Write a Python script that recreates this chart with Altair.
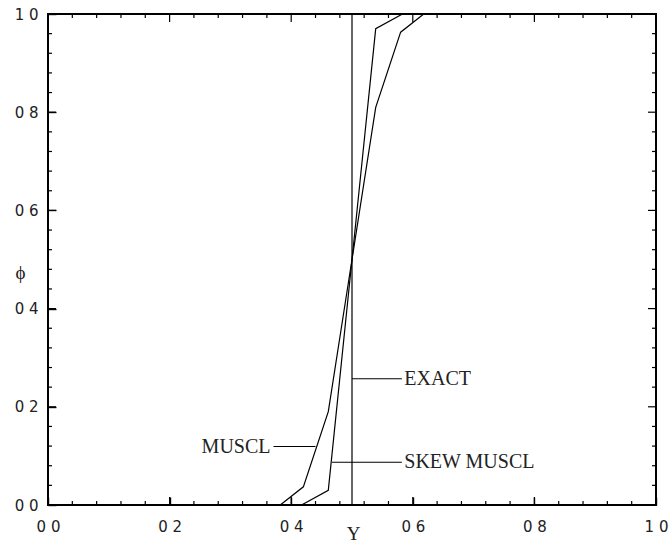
import altair as alt
import pandas as pd

# ---- data ----
muscl_x = [0.382, 0.420, 0.461, 0.500, 0.539, 0.580, 0.618]
muscl_y = [0.000, 0.037, 0.190, 0.500, 0.810, 0.963, 1.000]
skew_x = [0.417, 0.461, 0.500, 0.539, 0.583]
skew_y = [0.000, 0.030, 0.500, 0.970, 1.000]
exact_x = [0.5, 0.5]
exact_y = [0.0, 1.0]

# annotations (data units)
label_text = ["EXACT", "SKEW MUSCL", "MUSCL"]
leader_x1 = [0.500, 0.467, 0.371]
leader_x2 = [0.582, 0.582, 0.440]
leader_y = [0.257, 0.087, 0.119]
label_x = [0.586, 0.586, 0.366]
label_side = ["left", "left", "right"]

major_ticks = [0.0, 0.2, 0.4, 0.6, 0.8, 1.0]
minor_ticks = [0.04, 0.08, 0.12, 0.16, 0.24, 0.28, 0.32, 0.36, 0.44, 0.48,
               0.52, 0.56, 0.64, 0.68, 0.72, 0.76, 0.84, 0.88, 0.92, 0.96]

SERIF = "Liberation Serif"
SANS = "DejaVu Sans"
W, H = 608, 491
MAJOR_LEN, MINOR_LEN = 8, 4   # tick lengths in pixels (style)

rows = []
for name, xv, yv in (("MUSCL", muscl_x, muscl_y), ("SKEW MUSCL", skew_x, skew_y),
                     ("EXACT", exact_x, exact_y)):
    for i, (x, y) in enumerate(zip(xv, yv)):
        rows.append({"series": name, "i": i, "x": x, "y": y})

# inward tick segments on all four edges, built from the tick value lists
k = 0
for vals, ln in ((major_ticks, MAJOR_LEN), (minor_ticks, MINOR_LEN)):
    ly, lx = ln / H, ln / W
    for v in vals:
        for (xa, ya), (xb, yb) in (((v, 0.0), (v, ly)), ((v, 1.0), (v, 1.0 - ly)),
                                   ((0.0, v), (lx, v)), ((1.0, v), (1.0 - lx, v))):
            rows.append({"series": f"tick{k}", "i": 0, "x": xa, "y": ya})
            rows.append({"series": f"tick{k}", "i": 1, "x": xb, "y": yb})
            k += 1
lines_df = pd.DataFrame(rows)

ann_df = pd.DataFrame({"text": label_text, "x1": leader_x1, "x2": leader_x2,
                       "y": leader_y, "lx": label_x, "side": label_side})

xs = alt.Scale(domain=[0, 1], nice=False, zero=False)
ys = alt.Scale(domain=[0, 1], nice=False, zero=False)

lab_expr = "replace(format(datum.value, '.1f'), '.', ' ')"

# major ticks drawn inward by the axes themselves (negative size through an expression);
# the label padding compensates for the negative tick size
X_AXIS = alt.Axis(
    orient="bottom", values=major_ticks, domain=False, grid=False,
    ticks=True, tickSize=alt.ExprRef(f"-{MAJOR_LEN}"), tickColor="black", tickWidth=1.4,
    labelExpr=lab_expr, labelFont=SANS, labelFontSize=15, labelColor="#222",
    labelPadding=14 + MAJOR_LEN, labelFlush=False, labelBaseline="top",
    title="Y", titleFont=SERIF, titleFontSize=19, titleFontWeight="normal",
    titleColor="#222", titleX=305, titleY=28, titleBaseline="middle",
    titleAlign="center")
Y_AXIS = alt.Axis(
    orient="left", values=major_ticks, domain=False, grid=False,
    ticks=True, tickSize=alt.ExprRef(f"-{MAJOR_LEN}"), tickColor="black", tickWidth=1.4,
    labelExpr=lab_expr, labelFont=SANS, labelFontSize=15, labelColor="#222",
    labelPadding=10 + MAJOR_LEN, labelFlush=False,
    title="ϕ", titleFont=SERIF, titleFontSize=19, titleFontWeight="normal",
    titleColor="#222", titleAngle=0, titleX=-28, titleY=258,
    titleAlign="center", titleBaseline="middle")

def Xn(field):
    return alt.X(field, scale=xs, axis=None)

def Yn(field):
    return alt.Y(field, scale=ys, axis=None)

main = alt.Chart(lines_df).mark_line(color="black", strokeWidth=1.2).encode(
    x=alt.X("x:Q", scale=xs, axis=X_AXIS),
    y=alt.Y("y:Q", scale=ys, axis=Y_AXIS),
    detail="series:N", order="i:Q",
)

leaders = alt.Chart(ann_df).mark_rule(color="black", strokeWidth=1.1).encode(
    x=Xn("x1:Q"), x2="x2:Q", y=Yn("y:Q"),
)

text_left = alt.Chart(ann_df).transform_filter("datum.side == 'left'").mark_text(
    font=SERIF, fontSize=20, color="#222", align="left", baseline="middle"
).encode(x=Xn("lx:Q"), y=Yn("y:Q"), text="text:N")
text_right = alt.Chart(ann_df).transform_filter("datum.side == 'right'").mark_text(
    font=SERIF, fontSize=20, color="#222", align="right", baseline="middle"
).encode(x=Xn("lx:Q"), y=Yn("y:Q"), text="text:N")

chart = alt.layer(
    main, leaders, text_left, text_right,
).resolve_axis(x="independent", y="independent").properties(
    width=W, height=H,
    autosize=alt.AutoSizeParams(type="none"),
    padding={"left": 48, "top": 14, "right": 14, "bottom": 39},
    background="white",
).configure_view(stroke="black", strokeWidth=2)

chart.save("out.html", embed_options={"renderer": "svg", "actions": False})
